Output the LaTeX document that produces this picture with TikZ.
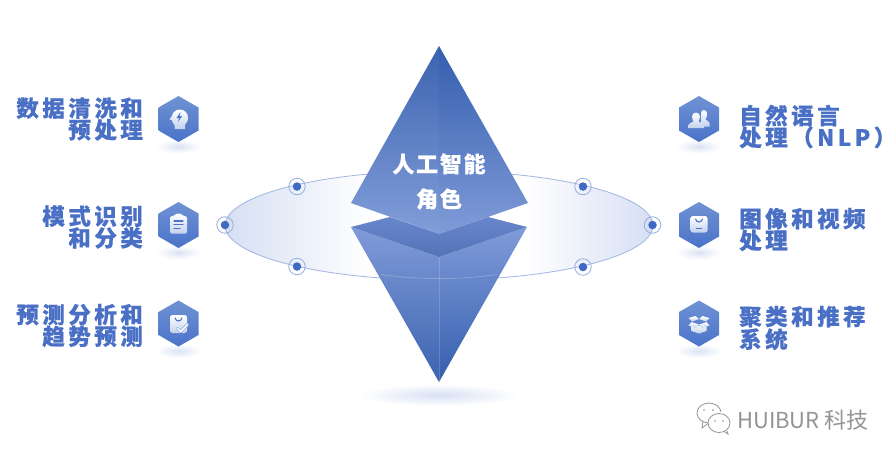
\documentclass[tikz,border=0pt]{standalone}
\usepackage{fontspec}
\setmainfont{Noto Sans CJK SC}
\newfontfamily\lablfont[LetterSpace=15.5,BoldFeatures={FakeBold=0.5}]{Noto Sans CJK SC}
\newfontfamily\titlefont[LetterSpace=8,BoldFeatures={FakeBold=0.3}]{Noto Sans CJK SC}
\newfontfamily\wmfont{Noto Sans CJK SC}
\definecolor{txt}{HTML}{4A70C6}
\definecolor{hexT}{HTML}{7092D4}
\definecolor{hexB}{HTML}{4A73C9}
\definecolor{ringc}{HTML}{92ABDF}
\definecolor{dotc}{HTML}{3F69C4}
\definecolor{linec}{HTML}{A2B6E2}
\definecolor{iconB}{HTML}{C3D1EE}
\definecolor{faceA}{RGB}{60,99,176}
\definecolor{faceB}{RGB}{130,158,217}
\definecolor{faceC}{RGB}{52,94,174}
\definecolor{faceD}{RGB}{128,155,216}
\definecolor{lidA}{RGB}{104,134,204}
\definecolor{lidB}{RGB}{84,114,182}
\definecolor{orbitEnd}{RGB}{214,223,243}
\pgfdeclarehorizontalshading{orbitshade}{100bp}{color(0bp)=(orbitEnd); color(25bp)=(orbitEnd); color(42bp)=(white); color(60bp)=(white); color(75bp)=(orbitEnd); color(100bp)=(orbitEnd)}
\tikzset{
  leftlab/.style={anchor=east,align=right,text=txt,inner sep=0pt,font=\lablfont\bfseries\fontsize{22.5}{21.7}\selectfont},
  rightlab/.style={anchor=west,align=left,text=txt,inner sep=0pt,font=\lablfont\bfseries\fontsize{22.5}{21.7}\selectfont},
  ringm/.style={circle,draw=ringc,line width=.8pt,minimum size=16.5pt,inner sep=0pt},
  dotm/.style={circle,fill=dotc,minimum size=8.5pt,inner sep=0pt},
  ico/.style={top color=white,bottom color=iconB,draw=none},
  icl/.style={draw=hexB,line width=1.1pt,line cap=round,fill=none},
  hexshadow/.style={inner color=hexB!20,outer color=white,draw=none},
}
\newcommand{\hexbadge}[2]{%
  \path[hexshadow] (#1,{#2+27.5}) ellipse [x radius=23pt,y radius=7pt];
  \path[top color=hexT,bottom color=hexB]
    (#1,{#2-23}) -- ({#1+20},{#2-11.5}) -- ({#1+20},{#2+11.5}) -- (#1,{#2+23})
    -- ({#1-20},{#2+11.5}) -- ({#1-20},{#2-11.5}) -- cycle;
}
\begin{document}
\begin{tikzpicture}[x=1pt,y=-1pt]
\useasboundingbox (0,0) rectangle (896,459);
\fill[white] (0,0) rectangle (896,459);

% ground shadow
\path[inner color=hexB!22,outer color=white] (439,395) ellipse [x radius=80pt,y radius=11pt];

% orbit
\path[shading=orbitshade] (439,225.5) ellipse [x radius=214pt,y radius=54.5pt];
\draw[linec,line width=.8pt] (439,225.5) ellipse [x radius=214pt,y radius=54.5pt];

% upper pyramid
\path[top color=faceA,bottom color=faceB]
  (439,46) -- (351,203) -- (439,234) -- cycle;
\path[shading angle=20,top color=faceC,bottom color=faceD]
  (439,46) -- (528,203) -- (439,234) -- cycle;
% lower pyramid
\path[top color=faceD,bottom color=faceA]
  (351,227) -- (439,257) -- (439,382) -- cycle;
\path[shading angle=-20,top color=faceD,bottom color=faceC]
  (527,227) -- (439,257) -- (439,382) -- cycle;
% lid
\path[top color=lidA,bottom color=lidB]
  (351,227) -- (390,217) -- (439,234) -- (488,217) -- (527,227) -- (439,257) -- cycle;
\draw[white,opacity=.18,line width=.7pt] (439,257) -- (439,382);
\draw[white,opacity=.22,line width=.8pt] (381,274.5) .. controls (420,280) and (458,280) .. (497,274.5);

\node[font=\titlefont\bfseries\fontsize{22}{35}\selectfont,text=white,align=center,inner sep=0pt] (title) at (439,181.5) {人工智能\\角色};

% orbit markers
\node[ringm] (m1) at (297,186.5) {}; \node[dotm] (d1) at (m1) {};
\node[ringm] (m2) at (225,225) {};   \node[dotm] (d2) at (m2) {};
\node[ringm] (m3) at (297,266.5) {}; \node[dotm] (d3) at (m3) {};
\node[ringm] (m4) at (583,186.5) {}; \node[dotm] (d4) at (m4) {};
\node[ringm] (m5) at (652.5,225) {}; \node[dotm] (d5) at (m5) {};
\node[ringm] (m6) at (583,267) {};   \node[dotm] (d6) at (m6) {};

% badges
\hexbadge{178.5}{119}
\hexbadge{178.5}{225}
\hexbadge{178.5}{323.5}
\hexbadge{699}{119}
\hexbadge{699}{225}
\hexbadge{699}{323.5}

% head icon
\begin{scope}[shift={(178.5,119)}]
\path[ico] (-4,10) -- (-4,6) .. controls (-6,4) and (-6.5,2) .. (-6.5,1) -- (-9,0.5)
  -- (-6.5,-3) .. controls (-6,-7) and (-2,-9.5) .. (1,-9.5)
  .. controls (6,-9.5) and (9.5,-6) .. (9.5,-1.5) .. controls (9.5,2) and (8,4) .. (6.5,5.5)
  -- (6.5,10) -- cycle;
\fill[hexB] (2,-7) -- (-2,-1) -- (0.5,-1) -- (-0.5,3) -- (3.5,-3) -- (1,-3) -- cycle;
\end{scope}
% clipboard icon
\begin{scope}[shift={(178.5,225)}]
\path[ico,rounded corners=1.5pt] (-8.5,-9) -- (-4,-9) -- (-3,-11.5) -- (3,-11.5) -- (4,-9) -- (8.5,-9) -- (8.5,8.5) -- (-8.5,8.5) -- cycle;
\draw[icl] (-4.5,-4) -- (4.5,-4) (-4.5,-0.5) -- (4.5,-0.5) (-4.5,3.5) -- (1.5,3.5);
\end{scope}
% bag with check icon
\begin{scope}[shift={(178.5,323.5)}]
\path[ico,rounded corners=2.5pt] (-8.5,-8.5) -- (8.5,-8.5) -- (8.5,9.5) -- (-8.5,9.5) -- cycle;
\draw[icl] (-3.5,-5.5) .. controls (-2.5,-1.5) and (2.5,-1.5) .. (3.5,-5.5);
\draw[hexB!55!white,line width=3pt,line cap=round,line join=round] (-1,5) -- (2,8) -- (9,1);
\draw[white,line width=1.4pt,line cap=round,line join=round] (-1,5) -- (2,8) -- (9,1);
\end{scope}
% people icon
\begin{scope}[shift={(699,119)}]
\path[ico] (5,-9) .. controls (8,-9) and (8.5,-6) .. (8,-3.5) .. controls (7.6,-1) and (6.5,-.5) .. (6.5,0.5)
  .. controls (8,2) and (10,2) .. (10.5,4) -- (10.5,7.5) -- (2,7.5) -- (2,-6) .. controls (2,-8) and (3.5,-9) .. (5,-9) -- cycle;
\path[draw=hexT!85!hexB,line width=1pt,ico] (-3,-6.5) .. controls (0,-6.5) and (1,-4) .. (1,-2) .. controls (1,0.5) and (-.5,1.5) .. (-.5,2.5)
  .. controls (1.5,4) and (4.5,4) .. (5,6.5) -- (5,9) -- (-11,9) -- (-11,6.5)
  .. controls (-10.5,4) and (-7.5,4) .. (-5.5,2.5) .. controls (-5.5,1.5) and (-7,0.5) .. (-7,-2)
  .. controls (-7,-4) and (-6,-6.5) .. (-3,-6.5) -- cycle;
\end{scope}
% tag icon
\begin{scope}[shift={(699,225)}]
\path[ico,rounded corners=2.5pt] (-8.5,-9) -- (8.5,-9) -- (8.5,7.5) -- (-8.5,7.5) -- cycle;
\draw[icl] (-3.5,-6) .. controls (-2.5,-2) and (2.5,-2) .. (3.5,-6);
\draw[icl] (-2.5,3.5) -- (2.5,3.5);
\end{scope}
% box icon
\begin{scope}[shift={(699,323.5)}]
\path[ico] (-7.5,0) -- (0,2.5) -- (7.5,0) -- (7.5,7.5) -- (0,10) -- (-7.5,7.5) -- cycle;
\path[ico] (-10.5,-5.5) -- (-3.5,-7.5) -- (0,-4.5) -- (-7,-2) -- cycle;
\path[ico] (10.5,-5.5) -- (3.5,-7.5) -- (0,-4.5) -- (7,-2) -- cycle;
\path[ico] (-7.5,-1.5) -- (0,1) -- (-3,4.5) -- (-10.5,2) -- cycle;
\path[ico] (7.5,-1.5) -- (0,1) -- (3,4.5) -- (10.5,2) -- cycle;
\end{scope}

% labels
\node[leftlab] (l1) at (143,119) {数据清洗和\\预处理};
\node[leftlab] (l2) at (143,227) {模式识别\\和分类};
\node[leftlab] (l3) at (143,325.5) {预测分析和\\趋势预测};
\node[rightlab] (r1) at (739,126.5) {自然语言\\处理（NLP）};
\node[rightlab] (r2) at (739,229.5) {图像和视频\\处理};
\node[rightlab] (r3) at (739,328) {聚类和推荐\\系统};

% watermark
\begin{scope}[draw=black!42,line width=.8pt]
\draw (709,413) ellipse [x radius=12pt,y radius=10pt];
\fill[white] (719,423) circle [radius=11.5pt];
\draw (719,423) ellipse [x radius=11pt,y radius=9.5pt];
\fill[black!45] (704,410) circle [radius=.9pt] (713,410) circle [radius=.9pt] (715,421) circle [radius=.9pt] (723,421) circle [radius=.9pt];
\draw (703,421) -- (702,428) -- (708,423.5);
\draw (724,431.5) -- (728,434) -- (727,431);
\end{scope}
\node[anchor=west,inner sep=0pt,text=black!42,font=\wmfont\fontsize{22}{24}\selectfont] (mark) at (737,420) {HUIBUR 科技};
\end{tikzpicture}
\end{document}
